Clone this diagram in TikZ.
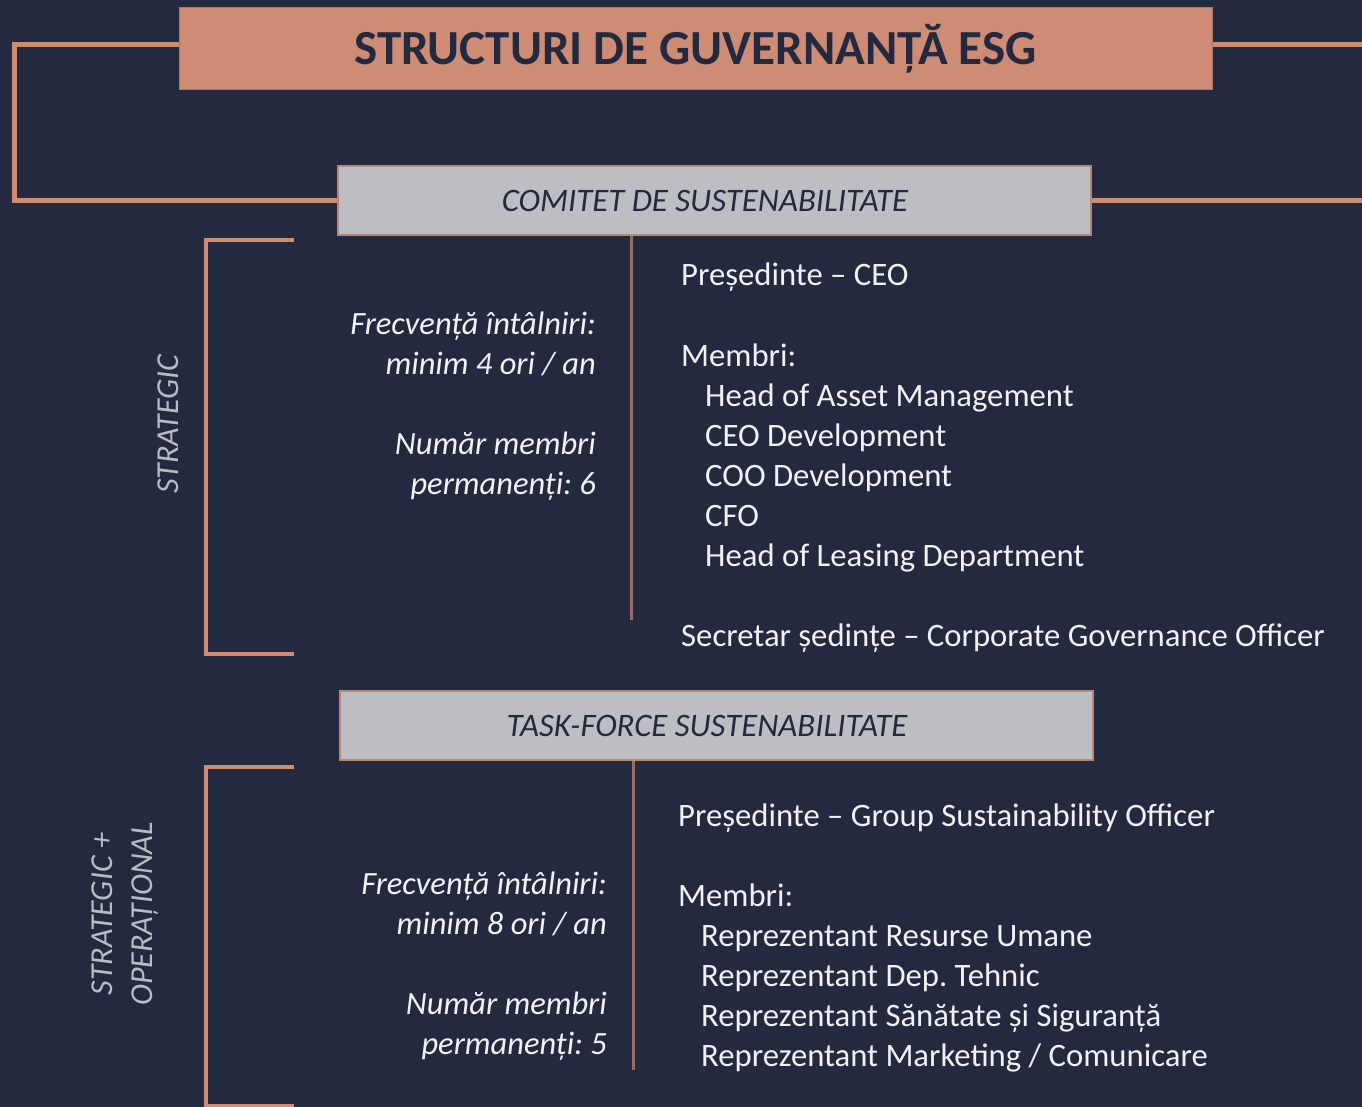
\documentclass[tikz,border=0pt]{standalone}
\usepackage{fontspec}
\setmainfont{Carlito}
\frenchspacing
\definecolor{bgnavy}{RGB}{35,42,64}
\definecolor{salmon}{RGB}{206,140,116}
\definecolor{boxgray}{RGB}{189,190,195}
\definecolor{divider}{RGB}{150,108,100}
\definecolor{txtwhite}{RGB}{242,242,244}
\definecolor{lblgray}{RGB}{185,187,194}
\tikzset{
  conn/.style={draw=salmon,line width=5pt},
  brack/.style={draw=salmon,line width=4pt},
  divline/.style={draw=divider,line width=3pt},
  titlebox/.style={fill=salmon,draw=salmon!85!black,line width=1pt,minimum width=1033pt,minimum height=82pt,inner sep=0pt,
    text=bgnavy,font=\fontsize{49}{55}\selectfont\bfseries},
  secbox/.style={fill=boxgray,draw=salmon!70!gray,line width=1.5pt,minimum width=753pt,minimum height=69pt,inner sep=0pt,
    text=bgnavy,font=\fontsize{32.8}{38}\selectfont\itshape},
  rtxt/.style={anchor=base west,inner sep=0pt,text=txtwhite,font=\fontsize{32.7}{38}\selectfont},
  ltxt/.style={anchor=base east,inner sep=0pt,text=txtwhite,font=\fontsize{32.5}{38}\selectfont\itshape},
  sidelbl/.style={rotate=90,inner sep=0pt,text=lblgray,font=\fontsize{32}{40}\selectfont\itshape,align=center}
}
\begin{document}
\begin{tikzpicture}[x=1pt,y=-1pt]
\useasboundingbox (0,0) rectangle (1362,1107);
\fill[bgnavy] (0,0) rectangle (1362,1107);

% title and section boxes
\node[titlebox] (title) at (695.5,49) {STRUCTURI DE GUVERNANȚĂ ESG};
\node[secbox] (comitet) at (714.5,200.5) {\hspace*{-19pt}COMITET DE SUSTENABILITATE};
\node[secbox] (task) at (716.5,725.5) {\hspace*{-19pt}TASK-FORCE SUSTENABILITATE};

% connectors
\coordinate (lcorner) at (14,200.5);
\coordinate (redgeA) at (1362,45);
\coordinate (redgeB) at (1362,200.5);
\draw[conn] ([yshift=4pt]title.west) -| (lcorner) -- (comitet.west);
\draw[conn] ([yshift=4pt]title.east) -- ([yshift=4pt]title.east -| redgeA);
\draw[conn] (comitet.east) -- (comitet.east -| redgeB);

% brackets
\coordinate (b1t) at (294,240);
\coordinate (b1b) at (294,654);
\draw[brack] (b1t) -- (206,240) -- (206,654) -- (b1b);
\coordinate (b2t) at (294,767);
\coordinate (b2b) at (294,1106);
\draw[brack] (b2t) -- (206,767) -- (206,1106) -- (b2b);

% side labels
\node[sidelbl] (lblA) at (168,424) {STRATEGIC};
\node[sidelbl] (lblB) at (125,914) {STRATEGIC +\\OPERAȚIONAL};

% dividers
\coordinate (d1) at (631,620);
\draw[divline] (comitet.south -| d1) -- (d1);
\coordinate (d2) at (633,1070);
\draw[divline] (task.south -| d2) -- (d2);

% section 1 left
\node[ltxt] (f1) at (596,334) {Frecvență întâlniri:};
\node[ltxt] (f2) at (596,374) {minim 4 ori / an};
\node[ltxt] (f3) at (596,454) {Număr membri};
\node[ltxt] (f4) at (596,494) {permanenți: 6};
% section 1 right
\node[rtxt] (p1) at (681,286) {Președinte – CEO};
\node[rtxt] (m1) at (681,366) {Membri:};
\node[rtxt] (m1a) at (705,406) {Head of Asset Management};
\node[rtxt] (m1b) at (705,446) {CEO Development};
\node[rtxt] (m1c) at (705,486) {COO Development};
\node[rtxt] (m1d) at (705,526) {CFO};
\node[rtxt] (m1e) at (705,566) {Head of Leasing Department};
\node[rtxt] (s1) at (681,646) {Secretar ședințe – Corporate Governance Officer};

% section 2 left
\node[ltxt] (g1) at (607,894) {Frecvență întâlniri:};
\node[ltxt] (g2) at (607,934) {minim 8 ori / an};
\node[ltxt] (g3) at (607,1014) {Număr membri};
\node[ltxt] (g4) at (607,1054) {permanenți: 5};
% section 2 right
\node[rtxt] (p2) at (678,826) {Președinte – Group Sustainability Officer};
\node[rtxt] (m2) at (678,906) {Membri:};
\node[rtxt] (m2a) at (701,946) {Reprezentant Resurse Umane};
\node[rtxt] (m2b) at (701,986) {Reprezentant Dep. Tehnic};
\node[rtxt] (m2c) at (701,1026) {Reprezentant Sănătate și Siguranță};
\node[rtxt] (m2d) at (701,1066) {Reprezentant Marketing / Comunicare};
\end{tikzpicture}
\end{document}
